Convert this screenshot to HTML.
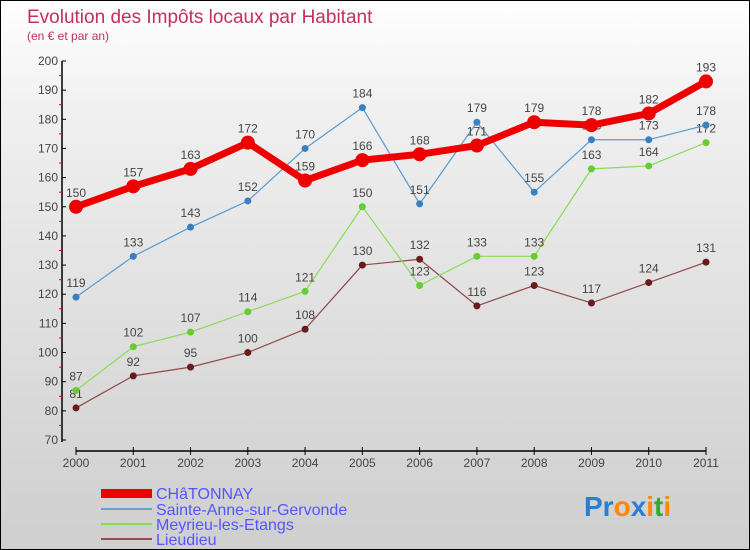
<!DOCTYPE html>
<html><head><meta charset="utf-8"><style>
body{margin:0}
#c{position:relative;width:748px;height:548px;border:1px solid #000;background:linear-gradient(#fff,#f0f0f0 20%,#d6d6d6 80%,#cfcfcf);font-family:"Liberation Sans",sans-serif;overflow:hidden}
svg text{font-family:"Liberation Sans",sans-serif}
</style></head><body>
<div id="c">
<svg width="748" height="548">
<text x="26" y="22" font-size="19" fill="#c03060">Evolution des Impôts locaux par Habitant</text>
<text x="26" y="39" font-size="12" fill="#c03060">(en € et par an)</text>
<g id="axes"></g><g id="series"></g>
<g>
<rect x="100" y="488" width="51" height="9" fill="#ee0000"/>
<text x="155" y="498" font-size="16" fill="#5555ff">CHâTONNAY</text>
<rect x="100" y="507" width="51" height="2" fill="#6aa0d0"/>
<text x="155" y="514" font-size="16" fill="#5555ff">Sainte-Anne-sur-Gervonde</text>
<rect x="100" y="522" width="51" height="2" fill="#88dd55"/>
<text x="155" y="529" font-size="16" fill="#5555ff">Meyrieu-les-Etangs</text>
<rect x="100" y="537" width="51" height="2" fill="#905050"/>
<text x="155" y="544" font-size="16" fill="#5555ff">Lieudieu</text>
</g>
<text x="583" y="515" font-size="28" font-weight="bold"><tspan fill="#2a7fd0">Pr</tspan><tspan fill="#ff8800">o</tspan><tspan fill="#2a7fd0">x</tspan><tspan fill="#ff8800">i</tspan><tspan fill="#33aa33">t</tspan><tspan fill="#ff8800">i</tspan></text>
</svg></div>
<script>
const years=[2000,2001,2002,2003,2004,2005,2006,2007,2008,2009,2010,2011];
const yTicks=[70,80,90,100,110,120,130,140,150,160,170,180,190,200];
const chatonnay=[150,157,163,172,159,166,168,171,179,178,182,193];
const sainteAnne=[119,133,143,152,170,184,151,179,155,173,173,178];
const meyrieu=[87,102,107,114,121,150,123,133,133,163,164,172];
const lieudieu=[81,92,95,100,108,130,132,116,123,117,124,131];
const NS="http://www.w3.org/2000/svg";
const xs=i=>75+i*(705-75)/11;
const ys=v=>439-(v-70)*(439-60)/130;
function mk(t,a,p){const e=document.createElementNS(NS,t);for(const k in a)e.setAttribute(k,a[k]);p.appendChild(e);return e;}
const ax=document.getElementById('axes');
let e=mk('line',{x1:61,y1:60,x2:61,y2:441,stroke:'#000','stroke-width':1.5},ax);


e=mk('line',{x1:75,y1:450,x2:705,y2:450,stroke:'#000','stroke-width':1.5},ax);


yTicks.forEach(v=>{
 mk('line',{x1:61,y1:ys(v),x2:65,y2:ys(v),stroke:'#000'},ax);
 if(v<200)mk('line',{x1:58,y1:ys(v+5),x2:61,y2:ys(v+5),stroke:'#e00'},ax);
 const t=mk('text',{x:57,y:ys(v)+4,'text-anchor':'end','font-size':12,fill:'#444'},ax);t.textContent=v;
 
 
});
years.forEach((y,i)=>{
 mk('line',{x1:xs(i),y1:446,x2:xs(i),y2:454,stroke:'#000'},ax);
 const t=mk('text',{x:xs(i),y:466,'text-anchor':'middle','font-size':12,fill:'#444'},ax);t.textContent=y;
 
 
});
const sg=document.getElementById('series');
function draw(data,color,dot,w,r,name){
 const g=mk('g',{},sg);
 
 
 const pl=mk('polyline',{points:data.map((v,i)=>xs(i)+','+ys(v)).join(' '),fill:'none',stroke:color,'stroke-width':w,'stroke-linejoin':'round'},g);
 
 
 data.forEach((v,i)=>{
  const c=mk('circle',{cx:xs(i),cy:ys(v),r:r,fill:dot},g);
  
  
  const t=mk('text',{x:xs(i),y:ys(v)-10,'text-anchor':'middle','font-size':12,fill:'#444'},g);t.textContent=v;
  
  
 });
}
draw(lieudieu,'#904848','#6a1a1a',1.2,3.5,'lieudieu');
draw(meyrieu,'#88dd55','#66cc33',1.2,3.5,'meyrieu');
draw(sainteAnne,'#5a9ad0','#3a80c0',1.2,3.5,'sainte-anne');
draw(chatonnay,'#ee0000','#ee0000',7,7,'chatonnay');
</script>
</body></html>
